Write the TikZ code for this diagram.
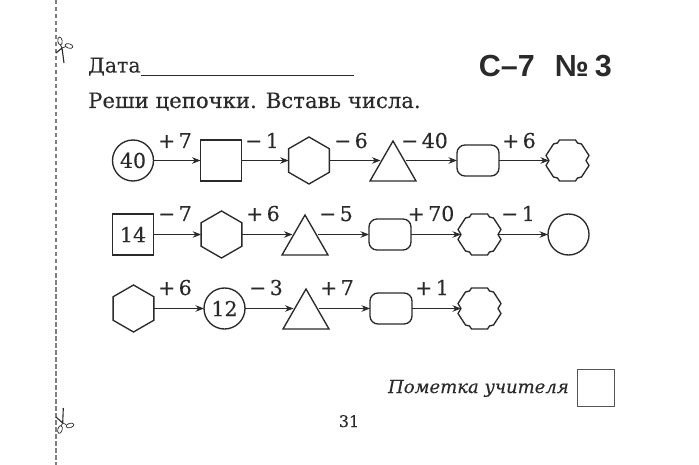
\documentclass[tikz,border=0pt]{standalone}
\usepackage{fontspec}
\setmainfont{DejaVu Serif}[FakeBold=0.25]
\newfontfamily\titlefont{Liberation Sans}
\usetikzlibrary{arrows.meta,shapes.geometric}
\definecolor{ink}{HTML}{2A2A2A}
\tikzset{
  x=1pt,y=-1pt,
  shp/.style={draw=ink,line width=1.35pt,line join=miter,fill=white},
  anchorbox/.style={inner sep=0pt,outer sep=0pt,minimum width=#1,minimum height=20pt},
  circ/.style={shp,circle,minimum size=41pt,inner sep=0pt,outer sep=0pt,text=ink,font=\fontsize{20.5}{20.5}\selectfont},
  sq/.style={shp,rectangle,minimum size=41pt,inner sep=0pt,outer sep=0pt,text=ink,font=\fontsize{20.5}{20.5}\selectfont},
  rnd/.style={shp,rectangle,rounded corners=8pt,minimum width=42pt,minimum height=31pt,inner sep=0pt,outer sep=0pt},
  hex/.style={shp,regular polygon,regular polygon sides=6,regular polygon rotate=0,shape border rotate=30,minimum size=47pt,inner sep=0pt,outer sep=0pt},
  conn/.style={draw=ink,line width=0.85pt,-{Stealth[length=8.5pt,width=6.5pt]}},
  lab/.style={anchor=base,text=ink,font=\fontsize{20.5}{20.5}\selectfont},
}
\newcommand{\trinode}[3]{%
  \draw[shp] (#2,#3-19.5) -- (#2+23,#3+20.5) -- (#2-23,#3+20.5) -- cycle;
  \node[anchorbox=25pt] (#1) at (#2,#3) {};
}
\newcommand{\gearnode}[3]{%
  \draw[shp,line join=round] (#2-8,#3-20.5) -- (#2+8,#3-20.5) -- (#2+10,#3-17.5) -- (#2+14,#3-16.5)
    -- (#2+21.5,#3-5) -- (#2+18.5,#3) -- (#2+21.5,#3+5)
    -- (#2+14,#3+16.5) -- (#2+10,#3+17.5) -- (#2+8,#3+20.5) -- (#2-8,#3+20.5)
    -- (#2-10,#3+17.5) -- (#2-14,#3+16.5) -- (#2-21.5,#3+5) -- (#2-18.5,#3)
    -- (#2-21.5,#3-5) -- (#2-14,#3-16.5) -- (#2-10,#3-17.5) -- cycle;
  \node[anchorbox=37pt] (#1) at (#2,#3) {};
}
\begin{document}
\begin{tikzpicture}
\useasboundingbox (0,0) rectangle (699,465);
\fill[white] (0,0) rectangle (699,465);
% cut line
\coordinate (cutA) at (56,0); \coordinate (cutB) at (56,465);
\draw[gray,line width=1.1pt,dash pattern=on 4.5pt off 2.5pt] (cutA) -- (cutB);
% scissors
\coordinate (s1a) at (64,63); \coordinate (s1b) at (56,53); \coordinate (s1p) at (62,48);
\coordinate (s1c) at (60.5,45); \coordinate (s1d) at (66,46.5);
\draw[ink,line width=1.1pt] (s1a) -- (s1p) (s1b) -- (s1p);
\draw[ink,line width=0.7pt] (s1p) -- (s1c) (s1p) -- (s1d);
\draw[ink,line width=0.7pt,rotate around={-80:(60,41)}] (60,41) ellipse (4pt and 2.2pt);
\draw[ink,line width=0.7pt,rotate around={-15:(69,46)}] (69,46) ellipse (4pt and 2.2pt);
\coordinate (s2a) at (63.3,408); \coordinate (s2b) at (56,417); \coordinate (s2p) at (62.7,423);
\coordinate (s2c) at (61,426); \coordinate (s2d) at (66,424.5);
\draw[ink,line width=1.1pt] (s2a) -- (s2p) (s2b) -- (s2p);
\draw[ink,line width=0.7pt] (s2p) -- (s2c) (s2p) -- (s2d);
\draw[ink,line width=0.7pt,rotate around={75:(60,429.5)}] (60,429.5) ellipse (4pt and 2.2pt);
\draw[ink,line width=0.7pt,rotate around={15:(70,425.5)}] (70,425.5) ellipse (4pt and 2.2pt);
% header
\node[anchor=base west,inner sep=0pt,text=ink,font=\fontsize{20.5}{20.5}\selectfont] (date) at (88,72.5) {Дата};
\coordinate (lineR) at (354,75);
\draw[ink,line width=0.8pt] (141,75) -- (lineR);
\node[anchor=base east,inner sep=0pt,text=ink,font={\titlefont\bfseries\fontsize{30.5}{30.5}\selectfont}] (title) at (612,77) {С–7\hspace{20pt}№\hspace{6pt}3};
\node[anchor=base west,inner sep=0pt,text=ink,font=\fontsize{21.2}{21.2}\selectfont] (task) at (88,108) {Реши цепочки. Вставь числа.};
% row 1
\node[circ] (a1) at (133,160.5) {40};
\node[sq] (a2) at (221,160.5) {};
\node[hex] (a3) at (309,160.5) {};
\trinode{a4}{393}{160.5}
\node[rnd] (a5) at (478,160.5) {};
\gearnode{a6}{567.5}{160.5}
\draw[conn] (a1.east) -- (a2.west);
\draw[conn] (a2.east) -- (a3.west);
\draw[conn] (a3.east) -- (a4.west);
\draw[conn] (a4.east) -- (a5.west);
\draw[conn] (a5.east) -- (a6.west);
\node[lab] (la1) at (175,148) {+\,7};
\node[lab] (la2) at (262,148) {−\,1};
\node[lab] (la3) at (351,148) {−\,6};
\node[lab] (la4) at (424.5,148) {−\,40};
\node[lab] (la5) at (519,148) {+\,6};
% row 2
\node[sq] (b1) at (133,234.5) {14};
\node[hex] (b2) at (221.5,234.5) {};
\trinode{b3}{305}{234.5}
\node[rnd] (b4) at (390,234.5) {};
\gearnode{b5}{479.5}{234.5}
\node[circ] (b6) at (568.5,234.5) {};
\draw[conn] (b1.east) -- (b2.west);
\draw[conn] (b2.east) -- (b3.west);
\draw[conn] (b3.east) -- (b4.west);
\draw[conn] (b4.east) -- (b5.west);
\draw[conn] (b5.east) -- (b6.west);
\node[lab] (lb1) at (175,221) {−\,7};
\node[lab] (lb2) at (263,221) {+\,6};
\node[lab] (lb3) at (336,221) {−\,5};
\node[lab] (lb4) at (431,221) {+\,70};
\node[lab] (lb5) at (518,221) {−\,1};
% row 3
\node[hex] (c1) at (133.5,308.5) {};
\node[circ] (c2) at (224.5,308.5) {12};
\trinode{c3}{306}{308.5}
\node[rnd] (c4) at (391,308.5) {};
\gearnode{c5}{479.5}{308.5}
\draw[conn] (c1.east) -- (c2.west);
\draw[conn] (c2.east) -- (c3.west);
\draw[conn] (c3.east) -- (c4.west);
\draw[conn] (c4.east) -- (c5.west);
\node[lab] (lc1) at (175,295) {+\,6};
\node[lab] (lc2) at (266,295) {−\,3};
\node[lab] (lc3) at (337,295) {+\,7};
\node[lab] (lc4) at (432,295) {+\,1};
% footer
\node[anchor=base east,inner sep=0pt,text=ink,font={\itshape\fontsize{18}{18}\selectfont}] (note) at (569,393) {Пометка учителя};
\node[draw=ink!80,line width=0.8pt,minimum width=37pt,minimum height=37.5pt,inner sep=0pt] (nbox) at (595.5,388) {};
\node[anchor=base,inner sep=0pt,text=ink,font=\fontsize{16}{16}\selectfont] (page) at (349,427) {31};
\end{tikzpicture}
\end{document}
